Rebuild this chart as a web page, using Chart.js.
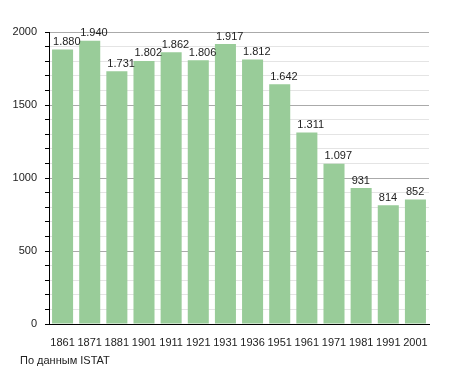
<!DOCTYPE html>
<html>
<head>
<meta charset="utf-8">
<script src="https://cdn.jsdelivr.net/npm/chart.js@4"></script>
<style>
  body { margin: 0; background: #fff; }
  #wrap { position: relative; width: 455px; height: 373px; }
  #src { position: absolute; left: 20px; top: 354px; font: 11px "Liberation Sans", Arial, sans-serif; color: #222; }
</style>
</head>
<body>
<div id="wrap">
  <canvas id="pop" width="455" height="373"></canvas>
  <div id="src">По данным ISTAT</div>
</div>
<script>
const years = ["1861", "1871", "1881", "1901", "1911", "1921", "1931", "1936", "1951", "1961", "1971", "1981", "1991", "2001"];
const population = [1880, 1940, 1731, 1802, 1862, 1806, 1917, 1812, 1642, 1311, 1097, 931, 814, 852];
const yTicks = [0, 500, 1000, 1500, 2000];

const fontFam = "'Liberation Sans', Arial, sans-serif";
Chart.defaults.font.family = fontFam;
Chart.defaults.font.size = 11;
Chart.defaults.color = "#222";

// Italian style thousands: 1880 -> "1.880"
function fmt(v) {
  if (v < 1000) return String(v);
  return Math.floor(v / 1000) + "." + String(v % 1000).padStart(3, "0");
}

// value labels above each bar
const barLabels = {
  id: "barLabels",
  afterDatasetsDraw(chart) {
    const c = chart.ctx;
    const meta = chart.getDatasetMeta(0);
    c.save();
    c.font = "11px " + fontFam;
    c.fillStyle = "#222";
    c.textAlign = "left";
    c.textBaseline = "bottom";
    meta.data.forEach((bar, i) => {
      c.fillText(fmt(population[i]), bar.x - bar.width / 2 + 1, bar.y - 2);
    });
    c.restore();
  }
};

new Chart(document.getElementById("pop"), {
  type: "bar",
  data: {
    labels: years,
    datasets: [{
      data: population,
      backgroundColor: "#99cc99",
      barPercentage: 0.775,
      categoryPercentage: 1,
    }],
  },
  options: {
    responsive: false,
    animation: false,
    layout: { padding: { top: 32, right: 26, left: 0, bottom: 0 } },
    plugins: {
      legend: { display: false },
      tooltip: { enabled: false },
    },
    scales: {
      x: {
        afterFit(s) { s.height = 49; },
        grid: { display: false },
        border: { color: "#000", width: 1 },
        ticks: { padding: 4, color: "#222", maxRotation: 0, autoSkip: false },
      },
      y: {
        min: 0,
        max: 2000,
        afterFit(s) { s.width = 49; },
        border: { color: "#000", width: 1 },
        grid: {
          color: (ctx) => (yTicks.includes(ctx.tick.value) ? "#aaaaaa" : "#e4e4e4"),
          tickColor: "#000",
          tickLength: 4,
        },
        ticks: {
          stepSize: 100,
          padding: 8,
          color: "#222",
          autoSkip: false,
          callback: (v) => (yTicks.includes(v) ? String(v) : ""),
        },
      },
    },
  },
  plugins: [barLabels],
});
</script>
</body>
</html>
